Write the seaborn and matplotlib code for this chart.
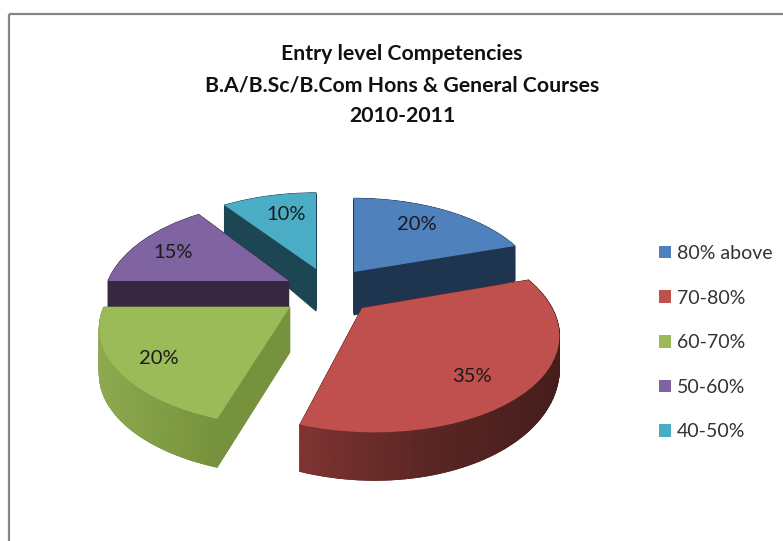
from matplotlib import pyplot as plt
from matplotlib.patches import Wedge, Rectangle
from matplotlib.colors import LinearSegmentedColormap
from matplotlib.transforms import Transform
import numpy as np
import seaborn as sns

categories = ['80% above', '70-80%', '60-70%', '50-60%', '40-50%']
values = [20, 35, 20, 15, 10]
title_lines = ['Entry level Competencies', 'B.A/B.Sc/B.Com Hons & General Courses', '2010-2011']

top_colors = ['#4F81BD', '#C0504D', '#9BBB59', '#8064A2', '#4BACC6']
wall_colors = ['#1F344E', '#5A2624', '#76923C', '#38283F', '#1C4654']

# geometry of each exploded slice in pixels: tip x, tip y, x radius, y radius, shear, depth, depth slope
slice_geom = [
    (354, 272, 181, 90, 0, 43, 0.30),
    (362, 308, 190, 97, 10, 28, 0.16),
    (290, 307, 186, 93, 0, 45, 0.03),
    (289, 281, 181, 97, 0, 30, 0.0),
    (316, 269, 184, 93, 0, 42, 0.22),
]
perspective = 0.22
label_pos = [(417, 224), (472, 376), (159, 359), (173, 253), (286, 214)]
draw_order = [4, 3, 0, 2, 1]
# outer wall shading, left to right
wall_shades = {1: ['#7F3432', '#5A2624', '#451E1C'], 2: ['#8DAA50', '#76923C']}


class Tilt(Transform):
    # projects the flat unit pie onto the tilted plane, t moves it down the extrusion
    input_dims = 2
    output_dims = 2
    is_separable = False
    has_inverse = False

    def __init__(self, geom, t=0.0):
        super().__init__()
        self.geom = geom
        self.t = t

    def transform_non_affine(self, values):
        values = np.asarray(values, dtype=float)
        cx, cy, a, d, b, d0, slope = self.geom
        u = values[:, 0]
        v = -values[:, 1]
        den = 1 - perspective * v
        x = cx + (a * u + b * v) / den
        y = d * v / den
        return np.column_stack([x, cy + y + self.t * (d0 + slope * y)])


sns.set_theme(style='white')
plt.rcParams['font.family'] = ['Lato', 'DejaVu Sans']

fig = plt.figure(figsize=(7.83, 5.41), dpi=100)
ax = fig.add_axes([0, 0, 1, 1])

wedges, _ = ax.pie(values, colors=sns.color_palette(top_colors), startangle=90,
                   counterclock=False, wedgeprops={'linewidth': 0})
ax.set_aspect('auto')
ax.set_xlim(0, 783)
ax.set_ylim(541, 0)

for rank, i in enumerate(draw_order):
    geom = slice_geom[i]
    w = wedges[i]
    z = 10 + rank * 2
    # extrusion built from stacked copies of the slice
    for t in np.linspace(1, 0, 60):
        layer = Wedge((0, 0), 1, w.theta1, w.theta2, color=wall_colors[i], lw=0.6, zorder=z)
        ax.add_patch(layer)
        layer.set_transform(Tilt(geom, t) + ax.transData)
    if i in wall_shades:
        theta = np.radians(np.linspace(w.theta1, w.theta2, 80))
        unit = np.column_stack([np.cos(theta), np.sin(theta)])
        upper = Tilt(geom, 0).transform_non_affine(unit)
        lower = Tilt(geom, 1).transform_non_affine(unit)
        X = np.vstack([upper[:, 0], lower[:, 0]])
        Y = np.vstack([upper[:, 1], lower[:, 1]])
        C = (X - X.min()) / (X.max() - X.min())
        cmap = LinearSegmentedColormap.from_list('wall', wall_shades[i])
        ax.pcolormesh(X, Y, C, cmap=cmap, shading='gouraud', zorder=z)
    w.set_zorder(z + 1)
    w.set_transform(Tilt(geom, 0) + ax.transData)

for v, (x, y) in zip(values, label_pos):
    ax.text(x, y, f'{v}%', ha='center', va='center', fontsize=14.5, color='#1a1a1a', zorder=40)

ax.text(402, 85, '\n'.join(title_lines), ha='center', va='center', fontsize=15.3,
        fontweight='bold', color='#111111', linespacing=1.7, zorder=40)

ax.add_patch(Rectangle((9, 14), 900, 700, fill=False, edgecolor='#868686', lw=1.6, zorder=50))

legend = ax.legend(wedges, categories, loc='upper left', bbox_to_anchor=(659 / 783, 1 - 245 / 541),
                   frameon=False, fontsize=14, handlelength=0.62, handleheight=0.62,
                   handletextpad=0.3, labelspacing=1.42, borderpad=0, borderaxespad=0)
for text in legend.get_texts():
    text.set_color('#333333')

ax.set_axis_off()
fig.savefig('out.png', dpi=100)
